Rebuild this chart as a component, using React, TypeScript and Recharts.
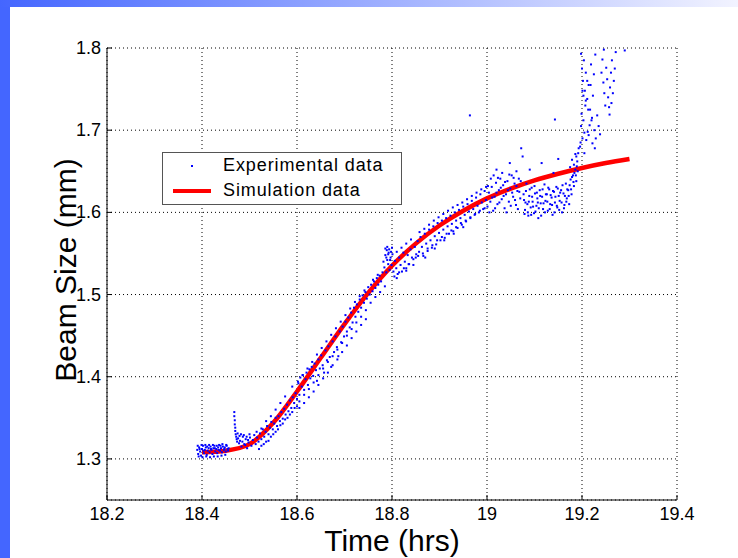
import React from "react";
import {
  ComposedChart,
  Scatter,
  Line,
  XAxis,
  YAxis,
  CartesianGrid,
  Legend
} from "recharts";

const FONT = "'Liberation Sans', Arial, sans-serif";

const xTicks = [18.2, 18.4, 18.6, 18.8, 19, 19.2, 19.4];
const yTicks = [1.3, 1.4, 1.5, 1.6, 1.7, 1.8];

// simulation curve (red)
const simTime = [18.4, 18.45, 18.5, 18.55, 18.6, 18.65, 18.7, 18.75, 18.8, 18.85, 18.9, 18.95, 19.0, 19.05, 19.1, 19.15, 19.2, 19.25, 19.3];
const simSize = [1.308, 1.31, 1.318, 1.344, 1.382, 1.423, 1.464, 1.502, 1.535, 1.562, 1.584, 1.602, 1.617, 1.629, 1.639, 1.647, 1.654, 1.66, 1.665];

// experimental points (blue), [time, size]
const expFlat = [
  [18.39, 1.311], [18.392, 1.306], [18.394, 1.314], [18.396, 1.309], [18.398, 1.304], [18.4, 1.312], [18.402, 1.316],
  [18.404, 1.307], [18.406, 1.311], [18.408, 1.314], [18.41, 1.305], [18.412, 1.31], [18.414, 1.313], [18.416, 1.308],
  [18.418, 1.315], [18.42, 1.311], [18.422, 1.306], [18.424, 1.313], [18.426, 1.316], [18.428, 1.309], [18.43, 1.312],
  [18.432, 1.307], [18.434, 1.314], [18.436, 1.317], [18.438, 1.31], [18.44, 1.313], [18.442, 1.308], [18.444, 1.315],
  [18.446, 1.311], [18.448, 1.314], [18.45, 1.309], [18.452, 1.316], [18.454, 1.312], [18.456, 1.313],
  [18.391, 1.316], [18.395, 1.312], [18.399, 1.317], [18.403, 1.31], [18.407, 1.317], [18.411, 1.315], [18.415, 1.317],
  [18.419, 1.312], [18.423, 1.317], [18.427, 1.313], [18.431, 1.316], [18.435, 1.311], [18.439, 1.316], [18.443, 1.318],
  [18.447, 1.312], [18.451, 1.317], [18.455, 1.31], [18.393, 1.303], [18.401, 1.302], [18.409, 1.303], [18.417, 1.302],
  [18.425, 1.303], [18.433, 1.303], [18.441, 1.304], [18.449, 1.305]
];
const expSpike = [
  [18.468, 1.357], [18.468, 1.352], [18.469, 1.347], [18.469, 1.342], [18.47, 1.338], [18.47, 1.334], [18.471, 1.33],
  [18.472, 1.327], [18.473, 1.324], [18.474, 1.321], [18.476, 1.325], [18.478, 1.319], [18.475, 1.331], [18.479, 1.328],
  [18.482, 1.33], [18.485, 1.321], [18.488, 1.329], [18.491, 1.317], [18.494, 1.327], [18.497, 1.323], [18.5, 1.33]
];
const expRise1 = [
  [18.48, 1.322], [18.483, 1.315], [18.486, 1.327], [18.489, 1.318], [18.492, 1.324], [18.495, 1.313], [18.498, 1.32],
  [18.501, 1.326], [18.504, 1.316], [18.507, 1.323], [18.51, 1.329], [18.513, 1.318], [18.516, 1.326], [18.519, 1.321],
  [18.522, 1.331], [18.525, 1.324], [18.528, 1.336], [18.531, 1.327], [18.534, 1.333], [18.537, 1.34], [18.54, 1.33],
  [18.543, 1.338], [18.546, 1.345], [18.549, 1.336], [18.552, 1.343], [18.555, 1.35], [18.558, 1.34], [18.561, 1.352],
  [18.564, 1.346], [18.567, 1.357], [18.57, 1.349], [18.573, 1.361], [18.576, 1.354], [18.579, 1.366], [18.582, 1.358],
  [18.585, 1.371], [18.588, 1.362], [18.591, 1.375], [18.594, 1.368], [18.597, 1.38], [18.6, 1.373],
  [18.52, 1.312], [18.53, 1.318], [18.54, 1.322], [18.55, 1.33], [18.56, 1.336], [18.57, 1.343], [18.58, 1.35],
  [18.59, 1.357], [18.6, 1.364], [18.525, 1.316], [18.535, 1.321], [18.545, 1.327], [18.555, 1.333], [18.565, 1.341],
  [18.575, 1.348], [18.585, 1.354], [18.595, 1.362], [18.515, 1.333], [18.535, 1.346], [18.555, 1.36], [18.575, 1.376],
  [18.59, 1.388], [18.525, 1.337], [18.545, 1.352], [18.565, 1.368]
];
const expRise2 = [
  [18.603, 1.392], [18.605, 1.378], [18.607, 1.399], [18.61, 1.388], [18.612, 1.402], [18.615, 1.384], [18.618, 1.397],
  [18.62, 1.405], [18.623, 1.39], [18.626, 1.409], [18.628, 1.398], [18.631, 1.412], [18.634, 1.401], [18.637, 1.416],
  [18.64, 1.408], [18.642, 1.395], [18.645, 1.421], [18.648, 1.41], [18.651, 1.426], [18.654, 1.414], [18.657, 1.405],
  [18.66, 1.432], [18.663, 1.42], [18.666, 1.437], [18.669, 1.424], [18.672, 1.412], [18.675, 1.443], [18.678, 1.43],
  [18.681, 1.449], [18.684, 1.436], [18.687, 1.425], [18.69, 1.455], [18.693, 1.442], [18.696, 1.461], [18.699, 1.449],
  [18.702, 1.467], [18.705, 1.455], [18.708, 1.472], [18.711, 1.46], [18.714, 1.478], [18.717, 1.466], [18.72, 1.484],
  [18.723, 1.473], [18.726, 1.488], [18.729, 1.479], [18.732, 1.494], [18.735, 1.484], [18.738, 1.499], [18.741, 1.49],
  [18.744, 1.503], [18.747, 1.495], [18.75, 1.509]
];
const expRise2Below = [
  [18.605, 1.37], [18.605, 1.362], [18.615, 1.378], [18.615, 1.368], [18.625, 1.385], [18.625, 1.375], [18.635, 1.393],
  [18.635, 1.382], [18.645, 1.402], [18.645, 1.39], [18.655, 1.41], [18.655, 1.398], [18.665, 1.418], [18.665, 1.405],
  [18.675, 1.425], [18.675, 1.414], [18.685, 1.433], [18.685, 1.421], [18.695, 1.441], [18.695, 1.43], [18.705, 1.45],
  [18.705, 1.438], [18.715, 1.458], [18.715, 1.447], [18.725, 1.466], [18.725, 1.455], [18.735, 1.473], [18.735, 1.463],
  [18.745, 1.481], [18.745, 1.47]
];
const expRise2Above = [
  [18.602, 1.394], [18.612, 1.402], [18.622, 1.41], [18.632, 1.418], [18.642, 1.427], [18.652, 1.435], [18.662, 1.443],
  [18.672, 1.451], [18.682, 1.459], [18.692, 1.467], [18.702, 1.475], [18.712, 1.483], [18.722, 1.491], [18.732, 1.498],
  [18.742, 1.505]
];
const expMid = [
  [18.753, 1.5], [18.756, 1.512], [18.759, 1.504], [18.762, 1.516], [18.765, 1.508], [18.768, 1.52], [18.771, 1.512],
  [18.774, 1.523], [18.777, 1.516], [18.78, 1.527], [18.782, 1.54], [18.784, 1.533], [18.786, 1.548], [18.788, 1.527],
  [18.789, 1.554], [18.79, 1.542], [18.792, 1.537], [18.793, 1.551], [18.795, 1.53], [18.797, 1.545], [18.799, 1.536],
  [18.801, 1.549], [18.803, 1.528], [18.806, 1.541], [18.809, 1.532], [18.812, 1.525], [18.815, 1.545], [18.818, 1.536],
  [18.821, 1.528], [18.824, 1.551], [18.827, 1.54], [18.83, 1.532], [18.833, 1.548], [18.836, 1.537], [18.839, 1.555],
  [18.842, 1.545], [18.845, 1.536], [18.848, 1.558], [18.851, 1.549],
  [18.755, 1.49], [18.765, 1.497], [18.775, 1.503], [18.785, 1.51], [18.805, 1.522], [18.815, 1.527], [18.825, 1.532],
  [18.835, 1.537], [18.845, 1.543], [18.81, 1.52], [18.83, 1.529], [18.85, 1.545], [18.786, 1.556], [18.788, 1.545],
  [18.79, 1.558], [18.792, 1.549], [18.794, 1.555], [18.796, 1.542], [18.798, 1.552], [18.8, 1.557], [18.76, 1.518],
  [18.77, 1.524], [18.81, 1.552], [18.82, 1.557], [18.83, 1.562], [18.84, 1.567]
];
const expUpper = [
  [18.854, 1.565], [18.857, 1.552], [18.86, 1.57], [18.863, 1.558], [18.866, 1.547], [18.869, 1.574], [18.872, 1.562],
  [18.875, 1.553], [18.878, 1.579], [18.881, 1.566], [18.884, 1.557], [18.887, 1.583], [18.89, 1.571], [18.893, 1.561],
  [18.896, 1.587], [18.899, 1.575], [18.902, 1.566], [18.905, 1.59], [18.908, 1.579], [18.911, 1.569], [18.914, 1.593],
  [18.917, 1.583], [18.92, 1.574], [18.923, 1.596], [18.926, 1.586], [18.929, 1.577], [18.932, 1.6], [18.935, 1.59],
  [18.938, 1.581], [18.941, 1.603], [18.944, 1.593], [18.947, 1.585], [18.95, 1.607], [18.953, 1.597], [18.956, 1.589],
  [18.959, 1.61], [18.962, 1.601], [18.965, 1.593], [18.968, 1.614], [18.971, 1.604], [18.974, 1.597], [18.977, 1.618],
  [18.98, 1.608], [18.983, 1.6], [18.986, 1.622], [18.989, 1.612], [18.992, 1.604], [18.995, 1.626], [18.998, 1.615],
  [18.964, 1.718],
  [18.855, 1.547], [18.865, 1.55], [18.875, 1.556], [18.885, 1.56], [18.895, 1.566], [18.905, 1.57], [18.915, 1.574],
  [18.925, 1.578], [18.935, 1.582], [18.945, 1.587], [18.955, 1.59], [18.965, 1.594], [18.975, 1.598], [18.985, 1.602],
  [18.995, 1.605], [18.87, 1.545], [18.89, 1.556], [18.91, 1.566], [18.93, 1.574], [18.95, 1.582], [18.858, 1.576],
  [18.868, 1.58], [18.878, 1.585], [18.888, 1.59], [18.898, 1.594], [18.908, 1.598], [18.918, 1.602], [18.928, 1.606],
  [18.938, 1.609], [18.948, 1.612], [18.958, 1.616], [18.968, 1.62], [18.978, 1.624], [18.988, 1.628], [18.998, 1.631]
];
const expPeak = [
  [19.001, 1.607], [19.004, 1.624], [19.007, 1.613], [19.01, 1.631], [19.013, 1.602], [19.016, 1.619], [19.019, 1.636],
  [19.022, 1.61], [19.025, 1.627], [19.028, 1.641], [19.031, 1.616], [19.034, 1.633], [19.037, 1.605], [19.04, 1.622],
  [19.043, 1.638], [19.046, 1.613], [19.049, 1.629], [19.052, 1.645], [19.055, 1.619], [19.058, 1.635], [19.061, 1.609],
  [19.064, 1.626], [19.067, 1.641], [19.07, 1.617], [19.02, 1.652], [19.048, 1.66], [19.062, 1.65], [19.072, 1.678],
  [19.075, 1.668],
  [19.002, 1.632], [19.005, 1.6], [19.008, 1.641], [19.011, 1.618], [19.014, 1.645], [19.017, 1.605], [19.02, 1.624],
  [19.023, 1.642], [19.026, 1.612], [19.029, 1.63], [19.032, 1.648], [19.035, 1.62], [19.038, 1.637], [19.041, 1.6],
  [19.044, 1.627], [19.047, 1.646], [19.05, 1.608], [19.053, 1.624], [19.056, 1.642], [19.059, 1.615], [19.062, 1.632],
  [19.065, 1.604], [19.068, 1.625], [19.071, 1.638]
];
const expLump = [
  [19.078, 1.615], [19.08, 1.603], [19.082, 1.626], [19.085, 1.61], [19.087, 1.596], [19.089, 1.62], [19.092, 1.606],
  [19.094, 1.63], [19.096, 1.613], [19.099, 1.599], [19.101, 1.623], [19.104, 1.608], [19.106, 1.617], [19.108, 1.593],
  [19.111, 1.627], [19.113, 1.611], [19.116, 1.619], [19.118, 1.604], [19.121, 1.634], [19.123, 1.614], [19.126, 1.622],
  [19.128, 1.602], [19.131, 1.628], [19.133, 1.61], [19.136, 1.618], [19.138, 1.597], [19.141, 1.625], [19.143, 1.612],
  [19.146, 1.631], [19.148, 1.606], [19.151, 1.62], [19.153, 1.614], [19.156, 1.627], [19.158, 1.6], [19.161, 1.623],
  [19.163, 1.609], [19.166, 1.635], [19.168, 1.617], [19.171, 1.627], [19.173, 1.61], [19.176, 1.64], [19.178, 1.622],
  [19.181, 1.645], [19.183, 1.632], [19.186, 1.652], [19.188, 1.638], [19.09, 1.652], [19.115, 1.66], [19.14, 1.648],
  [19.15, 1.665], [19.143, 1.713],
  [19.077, 1.622], [19.079, 1.598], [19.081, 1.612], [19.083, 1.635], [19.086, 1.6], [19.088, 1.613], [19.09, 1.628],
  [19.093, 1.597], [19.095, 1.619], [19.097, 1.607], [19.1, 1.632], [19.102, 1.601], [19.105, 1.624], [19.107, 1.612],
  [19.109, 1.605], [19.112, 1.62], [19.114, 1.596], [19.117, 1.628], [19.119, 1.611], [19.122, 1.6], [19.124, 1.622],
  [19.127, 1.613], [19.129, 1.63], [19.132, 1.604], [19.134, 1.621], [19.137, 1.609], [19.139, 1.626], [19.142, 1.6],
  [19.144, 1.619], [19.147, 1.608], [19.149, 1.629], [19.152, 1.603], [19.154, 1.624], [19.157, 1.612], [19.159, 1.633],
  [19.162, 1.605], [19.164, 1.62], [19.167, 1.613], [19.169, 1.628], [19.172, 1.62], [19.174, 1.633], [19.177, 1.628],
  [19.179, 1.643], [19.182, 1.637], [19.184, 1.648], [19.187, 1.645], [19.189, 1.656], [19.191, 1.65]
];
const expClimb = [
  [19.175, 1.655], [19.179, 1.664], [19.183, 1.658], [19.186, 1.671], [19.19, 1.662], [19.193, 1.678], [19.188, 1.668],
  [19.197, 1.685], [19.192, 1.672], [19.201, 1.69], [19.196, 1.68], [19.205, 1.697], [19.198, 1.705], [19.209, 1.688],
  [19.203, 1.712], [19.212, 1.698], [19.199, 1.72], [19.216, 1.706], [19.207, 1.73], [19.221, 1.715], [19.203, 1.742],
  [19.213, 1.725], [19.218, 1.755], [19.208, 1.736], [19.225, 1.768], [19.201, 1.748], [19.219, 1.78], [19.211, 1.76],
  [19.228, 1.792], [19.205, 1.672], [19.222, 1.684], [19.214, 1.694], [19.227, 1.678]
];
const expTop = [
  [19.198, 1.793], [19.2, 1.775], [19.202, 1.76], [19.204, 1.785], [19.206, 1.748], [19.208, 1.77], [19.211, 1.738],
  [19.214, 1.755], [19.217, 1.725], [19.22, 1.712], [19.223, 1.742], [19.226, 1.7], [19.229, 1.69], [19.232, 1.718],
  [19.235, 1.705], [19.238, 1.695], [19.241, 1.77], [19.243, 1.786], [19.245, 1.758], [19.247, 1.745], [19.249, 1.73],
  [19.251, 1.776], [19.253, 1.762], [19.255, 1.74], [19.257, 1.728], [19.259, 1.752], [19.261, 1.77], [19.263, 1.785],
  [19.265, 1.745], [19.267, 1.76], [19.269, 1.775], [19.271, 1.795], [19.262, 1.733], [19.258, 1.719], [19.29, 1.797],
  [19.246, 1.798]
];

const expData = [
  ...expFlat, ...expSpike, ...expRise1, ...expRise2, ...expRise2Below, ...expRise2Above,
  ...expMid, ...expUpper, ...expPeak, ...expLump, ...expClimb, ...expTop
].map(([t, v]) => ({ t, v }));
const simData = simTime.map((t, i) => ({ t, v: simSize[i] }));

const ExpDot = (p: any) => (
  <rect x={p.cx - 1} y={p.cy - 1} width={2} height={2} fill="#0000ff" />
);

const BottomTick = ({ x, y, payload }: any) => (
  <g>
    <line x1={x} y1={y} x2={x} y2={y - 5} stroke="#000" />
    <text x={x} y={y + 20} textAnchor="middle" fontSize={18} fontFamily={FONT} fill="#000">
      {payload.value}
    </text>
  </g>
);
const TopTick = ({ x, y }: any) => <line x1={x} y1={y} x2={x} y2={y + 5} stroke="#000" />;
const LeftTick = ({ x, y, payload }: any) => (
  <g>
    <line x1={x} y1={y} x2={x + 5} y2={y} stroke="#000" />
    <text x={x - 6} y={y + 6} textAnchor="end" fontSize={18} fontFamily={FONT} fill="#000">
      {payload.value}
    </text>
  </g>
);
const RightTick = ({ x, y }: any) => <line x1={x} y1={y} x2={x - 5} y2={y} stroke="#000" />;

const LegendBox = () => (
  <div
    style={{
      position: "relative",
      width: 238,
      height: 51,
      border: "1px solid #555",
      background: "#fff",
      fontFamily: FONT,
      fontSize: 18,
      color: "#000"
    }}
  >
    <div style={{ position: "absolute", left: 28, top: 12, width: 2, height: 2, background: "#0000ff" }} />
    <div style={{ position: "absolute", left: 60, top: 2, letterSpacing: 0.9 }}>Experimental data</div>
    <div style={{ position: "absolute", left: 10, top: 36, width: 38, height: 4, background: "#ff0000" }} />
    <div style={{ position: "absolute", left: 60, top: 27, letterSpacing: 0.9 }}>Simulation data</div>
  </div>
);

export default function App() {
  return (
    <div style={{ position: "absolute", left: 0, top: 0, width: 738, height: 558, background: "#fff", overflow: "hidden" }}>
      <div style={{ position: "absolute", left: 0, top: 0, width: 10, height: 558, background: "#4466ff" }} />
      <div
        style={{
          position: "absolute",
          left: 0,
          top: 0,
          width: 738,
          height: 7,
          background: "linear-gradient(to right, #4466ff, #f2f3ff)"
        }}
      />
      <ComposedChart width={738} height={558} margin={{ top: 48, right: 61, bottom: 0, left: 0 }}>
        <CartesianGrid stroke="#000" strokeDasharray="1 3" />
        <XAxis
          dataKey="t"
          type="number"
          domain={[18.2, 19.4]}
          ticks={xTicks}
          allowDataOverflow
          height={58}
          tickSize={0}
          tickMargin={0}
          tickLine={false}
          axisLine={{ stroke: "#000" }}
          tick={<BottomTick />}
          label={({ viewBox }: any) => (
            <text
              x={viewBox.x + viewBox.width / 2}
              y={viewBox.y + 51}
              textAnchor="middle"
              fontSize={30}
              fontFamily={FONT}
              fill="#000"
            >
              Time (hrs)
            </text>
          )}
        />
        <XAxis
          xAxisId="top"
          orientation="top"
          type="number"
          domain={[18.2, 19.4]}
          ticks={xTicks}
          height={0}
          tickSize={0}
          tickMargin={0}
          tickLine={false}
          axisLine={{ stroke: "#000" }}
          tick={<TopTick />}
        />
        <YAxis
          dataKey="v"
          type="number"
          domain={[1.25, 1.8]}
          ticks={yTicks}
          allowDataOverflow
          width={107}
          tickSize={0}
          tickMargin={0}
          tickLine={false}
          axisLine={{ stroke: "#000" }}
          tick={<LeftTick />}
          label={({ viewBox }: any) => (
            <text
              x={76}
              y={viewBox.y + viewBox.height / 2 - 4}
              transform={`rotate(-90 76 ${viewBox.y + viewBox.height / 2 - 4})`}
              textAnchor="middle"
              fontSize={30}
              fontFamily={FONT}
              fill="#000"
            >
              Beam Size (mm)
            </text>
          )}
        />
        <YAxis
          yAxisId="right"
          orientation="right"
          type="number"
          domain={[1.25, 1.8]}
          ticks={yTicks}
          width={0}
          tickSize={0}
          tickMargin={0}
          tickLine={false}
          axisLine={{ stroke: "#000" }}
          tick={<RightTick />}
        />
        <Scatter name="Experimental data" data={expData} dataKey="v" shape={ExpDot} isAnimationActive={false} />
        <Line
          name="Simulation data"
          data={simData}
          dataKey="v"
          type="monotone"
          stroke="#ff0000"
          strokeWidth={4.5}
          dot={false}
          activeDot={false}
          isAnimationActive={false}
        />
        <Legend
          layout="vertical"
          align="center"
          verticalAlign="middle"
          wrapperStyle={{ left: 162, top: 152, width: 240, height: 53 }}
          content={() => <LegendBox />}
        />
      </ComposedChart>
    </div>
  );
}
